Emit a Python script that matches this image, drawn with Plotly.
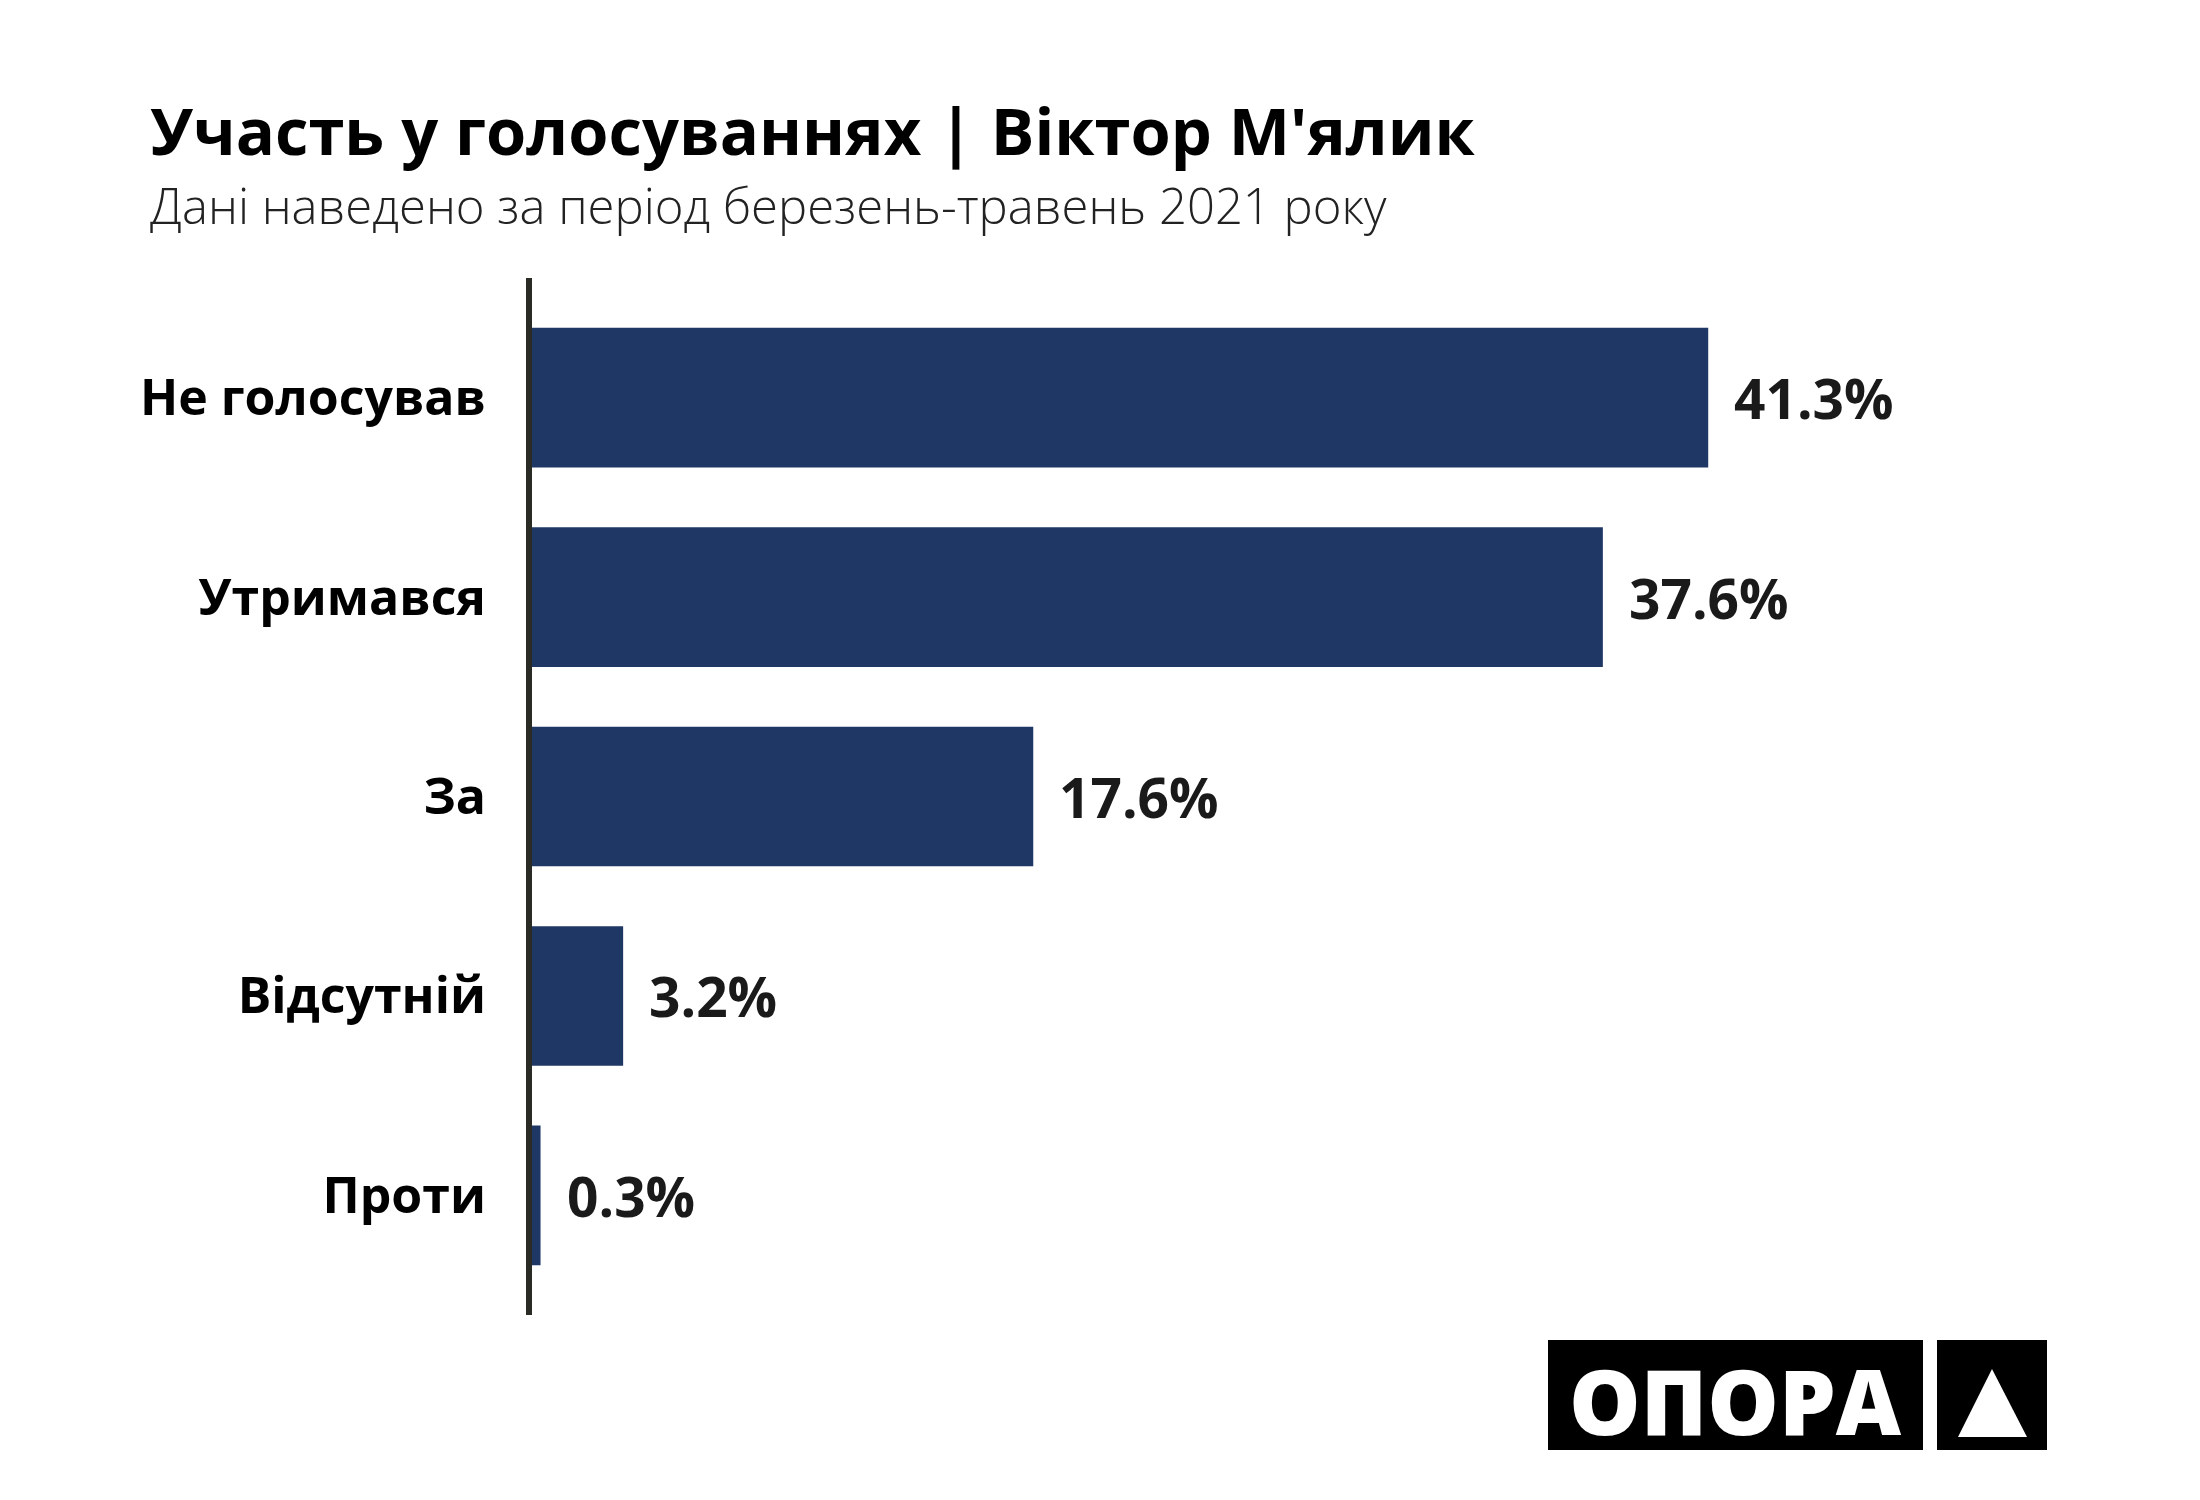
import plotly.graph_objects as go

# data
categories = ['Не голосував', 'Утримався', 'За', 'Відсутній', 'Проти']
shares = [41.3, 37.6, 17.6, 3.2, 0.3]

title_text = "Участь у голосуваннях | Віктор М'ялик"
subtitle_text = 'Дані наведено за період березень-травень 2021 року'

W, H = 2200, 1500
L, R, T, B = 524, 252, 270, 193
PW, PH = W - L - R, H - T - B

BAR_COLOR = '#1e3764'
FONT = 'Open Sans'


def px_x(px):
    # page pixel -> paper x
    return (px - L) / PW


def px_y(py):
    # page pixel (from top) -> paper y
    return (H - B - py) / PH


fig = go.Figure()

fig.add_trace(go.Bar(
    x=shares, y=categories, orientation='h',
    marker=dict(color=BAR_COLOR, line=dict(width=0)),
    hoverinfo='skip'
))

# value labels right of each bar
for cat, val in zip(categories, shares):
    fig.add_annotation(
        x=val, y=cat, xref='x', yref='y',
        text=f'{val:.1f}%', showarrow=False,
        xanchor='left', yanchor='middle', xshift=24,
        font=dict(family=FONT, size=55, color='#1a1a1a', weight=700)
    )

# title + subtitle
fig.add_annotation(
    x=px_x(140), y=px_y(122), xref='paper', yref='paper',
    text=title_text, showarrow=False, xanchor='left', yanchor='middle',
    font=dict(family=FONT, size=65, color='#000000', weight=700)
)
fig.add_annotation(
    x=px_x(140), y=px_y(197), xref='paper', yref='paper',
    text=subtitle_text, showarrow=False, xanchor='left', yanchor='middle',
    font=dict(family=FONT, size=49, color='#222222', weight=300)
)

# logo
fig.add_shape(type='rect', xref='paper', yref='paper',
              x0=px_x(1540), x1=px_x(1915), y0=px_y(1442), y1=px_y(1332),
              fillcolor='#000000', line=dict(width=0), layer='above')
fig.add_shape(type='rect', xref='paper', yref='paper',
              x0=px_x(1929), x1=px_x(2039), y0=px_y(1442), y1=px_y(1332),
              fillcolor='#000000', line=dict(width=0), layer='above')
tri = (f'M {px_x(1984)} {px_y(1361)} L {px_x(2019)} {px_y(1429)} '
       f'L {px_x(1950)} {px_y(1429)} Z')
fig.add_shape(type='path', xref='paper', yref='paper', path=tri,
              fillcolor='#ffffff', line=dict(width=0), layer='above')
fig.add_annotation(
    x=px_x(1727), y=px_y(1392), xref='paper', yref='paper',
    text='ОПОРА', showarrow=False, xanchor='center', yanchor='middle',
    font=dict(family=FONT, size=90, color='#ffffff', weight=800)
)

fig.update_layout(
    width=W, height=H,
    margin=dict(l=L, r=R, t=T, b=B, autoexpand=False),
    paper_bgcolor='#ffffff', plot_bgcolor='#ffffff',
    showlegend=False, bargap=0.3,
    font=dict(family=FONT),
)
fig.update_xaxes(range=[0, 50], visible=False, fixedrange=True)
fig.update_yaxes(
    range=[4.6, -0.6], type='category', automargin=False,
    showline=True, linecolor='#2a2b24', linewidth=6,
    showgrid=False, zeroline=False, ticks='', ticklabelstandoff=30,
    tickfont=dict(family=FONT, size=50, color='#000000', weight=700),
    fixedrange=True
)

fig.write_html('out.html')
